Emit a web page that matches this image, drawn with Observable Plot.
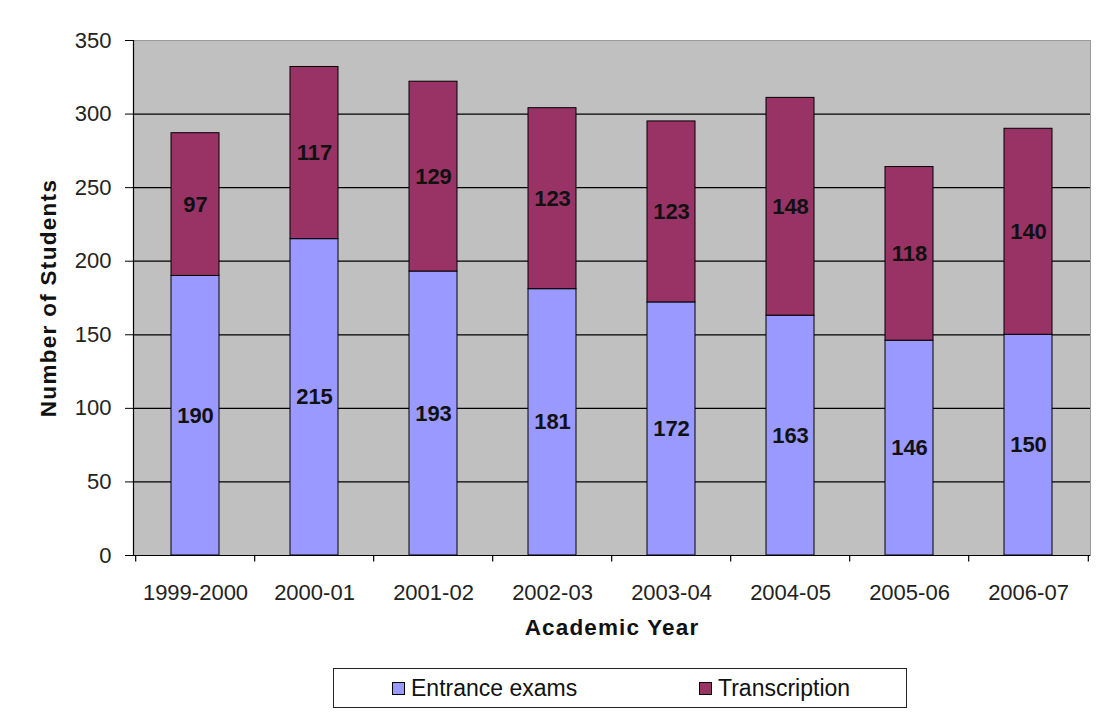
<!DOCTYPE html>
<html>
<head>
<meta charset="utf-8">
<script src="https://cdn.jsdelivr.net/npm/d3@7"></script>
<script src="https://cdn.jsdelivr.net/npm/@observablehq/plot@0.6"></script>
<style>
  body { margin: 0; background: #fff; font-family: "Liberation Sans", Arial, sans-serif; }
  #chart svg { display: block; }
  .ttl-x text { letter-spacing: 1.15px; }
  .ttl-y text { letter-spacing: 1.3px; }
  #key {
    margin: 8px 0 0 333px; width: 572px; height: 38px;
    border: 1.5px solid #222; background: #fff; position: relative;
    font-family: "Liberation Sans", Arial, sans-serif; font-size: 23px; color: #111;
  }
  #key .item { position: absolute; top: 6px; display: flex; align-items: center; }
  #key .sw { display: inline-block; width: 11px; height: 11px; border: 1.5px solid #000; margin-right: 6px; }
</style>
</head>
<body>
<div id="chart"></div>
<div id="key"></div>
<script>
const years = ["1999-2000", "2000-01", "2001-02", "2002-03", "2003-04", "2004-05", "2005-06", "2006-07"];
const entranceExams = [190, 215, 193, 181, 172, 163, 146, 150];
const transcription = [97, 117, 129, 123, 123, 148, 118, 140];
const seriesNames = ["Entrance exams", "Transcription"];
const seriesColors = ["#9999ff", "#993366"];
const yTicks = [0, 50, 100, 150, 200, 250, 300, 350];

const data = [];
years.forEach((y, i) => {
  data.push({year: y, series: seriesNames[0], value: entranceExams[i]});
  data.push({year: y, series: seriesNames[1], value: transcription[i]});
});

const W = 1104, H = 660, ML = 133, MR = 14, MT = 40, MB = 105;
const step = (W - ML - MR) / years.length;
const font = "Liberation Sans, Arial, sans-serif";

const chart = Plot.plot({
  width: W, height: H,
  marginLeft: ML, marginRight: MR, marginTop: MT, marginBottom: MB,
  style: {fontFamily: font, background: "#fff", overflow: "visible"},
  x: {domain: years, paddingInner: 0.6, paddingOuter: 0.3, label: null},
  y: {domain: [0, 350], label: null},
  color: {domain: seriesNames, range: seriesColors},
  marks: [
    Plot.frame({fill: "#c0c0c0", stroke: "#9a9a9a"}),
    Plot.ruleY(yTicks.filter(d => d > 0 && d < 350), {stroke: "#000", strokeWidth: 1.2}),
    Plot.barY(data, Plot.stackY({x: "year", y: "value", fill: "series", order: seriesNames, stroke: "#000", strokeWidth: 1})),
    Plot.text(data, Plot.stackY({x: "year", y: "value", z: "series", order: seriesNames, text: d => String(d.value),
      fontSize: 22, fontWeight: "bold", fill: "#111", fontFamily: font})),
    Plot.frame({anchor: "left", stroke: "#000", strokeWidth: 1.2}),
    Plot.ruleY([0], {stroke: "#000", strokeWidth: 1.2}),
    // x ticks at category boundaries
    Plot.ruleX(years, {x: d => d, y1: 0, y2: -4.5, dx: -step / 2, stroke: "#000", strokeWidth: 1.2}),
    Plot.ruleX([years[years.length - 1]], {x: d => d, y1: 0, y2: -4.5, dx: step / 2, stroke: "#000", strokeWidth: 1.2}),
    Plot.axisY({ticks: yTicks, tickSize: 8, tickPadding: 14, fontSize: 22, label: null, stroke: "#000", color: "#222"}),
    Plot.axisX({tickSize: 0, tickPadding: 29, fontSize: 22, label: null, color: "#222"}),
    Plot.text(["Academic Year"], {className: "ttl-x", frameAnchor: "bottom", dy: 79, text: d => d, fontSize: 22.5, fontWeight: "bold", fill: "#111"}),
    Plot.text(["Number of Students"], {className: "ttl-y", frameAnchor: "left", textAnchor: "middle", dx: -85, rotate: -90, text: d => d, fontSize: 22.5, fontWeight: "bold", fill: "#111"})
  ]
});

document.getElementById("chart").appendChild(chart);

const key = document.getElementById("key");
const lefts = [58, 365];
seriesNames.forEach((name, i) => {
  const it = document.createElement("div");
  it.className = "item";
  it.style.left = lefts[i] + "px";
  const sw = document.createElement("span");
  sw.className = "sw";
  sw.style.background = seriesColors[i];
  const tx = document.createElement("span");
  tx.textContent = name;
  it.appendChild(sw); it.appendChild(tx);
  key.appendChild(it);
});
</script>
</body>
</html>
